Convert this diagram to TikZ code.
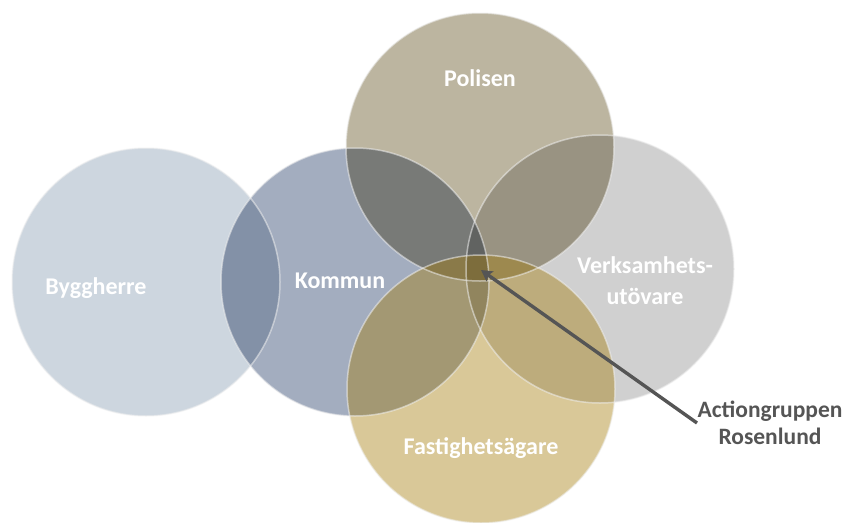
\documentclass[tikz,border=0pt]{standalone}
\usepackage{fontspec}
\setmainfont{Carlito}
\usetikzlibrary{arrows.meta}
\definecolor{cBygg}{HTML}{CDD6DF}
\definecolor{cKomm}{HTML}{A3ADBF}
\definecolor{cPol}{HTML}{BCB5A0}
\definecolor{cVerk}{HTML}{D0D0D0}
\definecolor{cFast}{RGB}{164,124,10}
\definecolor{cText}{HTML}{555555}
\tikzset{
  disc/.style={circle, minimum size=268pt, inner sep=0pt, draw=none},
  rim/.style={circle, minimum size=268pt, inner sep=0pt, draw=gray!12, draw opacity=0.55, line width=1.5pt},
  lbl/.style={text=white, font=\bfseries\fontsize{24}{31}\selectfont, align=center},
  note/.style={text=cText, font=\bfseries\fontsize{23.5}{27}\selectfont, align=center},
  pointer/.style={draw=cText, line width=3.4pt, -{Stealth[length=11pt,width=12pt,inset=2pt]}}
}
\begin{document}
\begin{tikzpicture}[x=1pt,y=-1pt]
\useasboundingbox (0,0) rectangle (843,522);
\begin{scope}[blend group=multiply]
  \node[disc, fill=cBygg] (bygg) at (146,282) {};
  \node[disc, fill=cKomm] (komm) at (355,282) {};
  \node[disc, fill=cPol]  (pol)  at (480,147) {};
  \node[disc, fill=cVerk] (verk) at (600,269) {};
\end{scope}
\node[disc, fill=cFast, fill opacity=0.42] (fast) at (481,389) {};
\node[rim] (byggr) at (146,282) {};
\node[rim] (kommr) at (355,282) {};
\node[rim] (polr)  at (480,147) {};
\node[rim] (verkr) at (600,269) {};
\node[rim] (fastr) at (481,389) {};
\node[lbl] (tbygg) at (96,288) {Byggherre};
\node[lbl] (tkomm) at (340,281) {Kommun};
\node[lbl] (tpol)  at (480,78) {Polisen};
\node[lbl] (tverk) at (645,281) {Verksamhets-\\utövare};
\node[lbl] (tfast) at (481,448) {Fastighetsägare};
\node[note] (tact) at (770,423) {Actiongruppen\\Rosenlund};
\coordinate (tail) at (697,423);
\coordinate (tip) at (481,270);
\draw[pointer] (tail) -- (tip);
\end{tikzpicture}
\end{document}
